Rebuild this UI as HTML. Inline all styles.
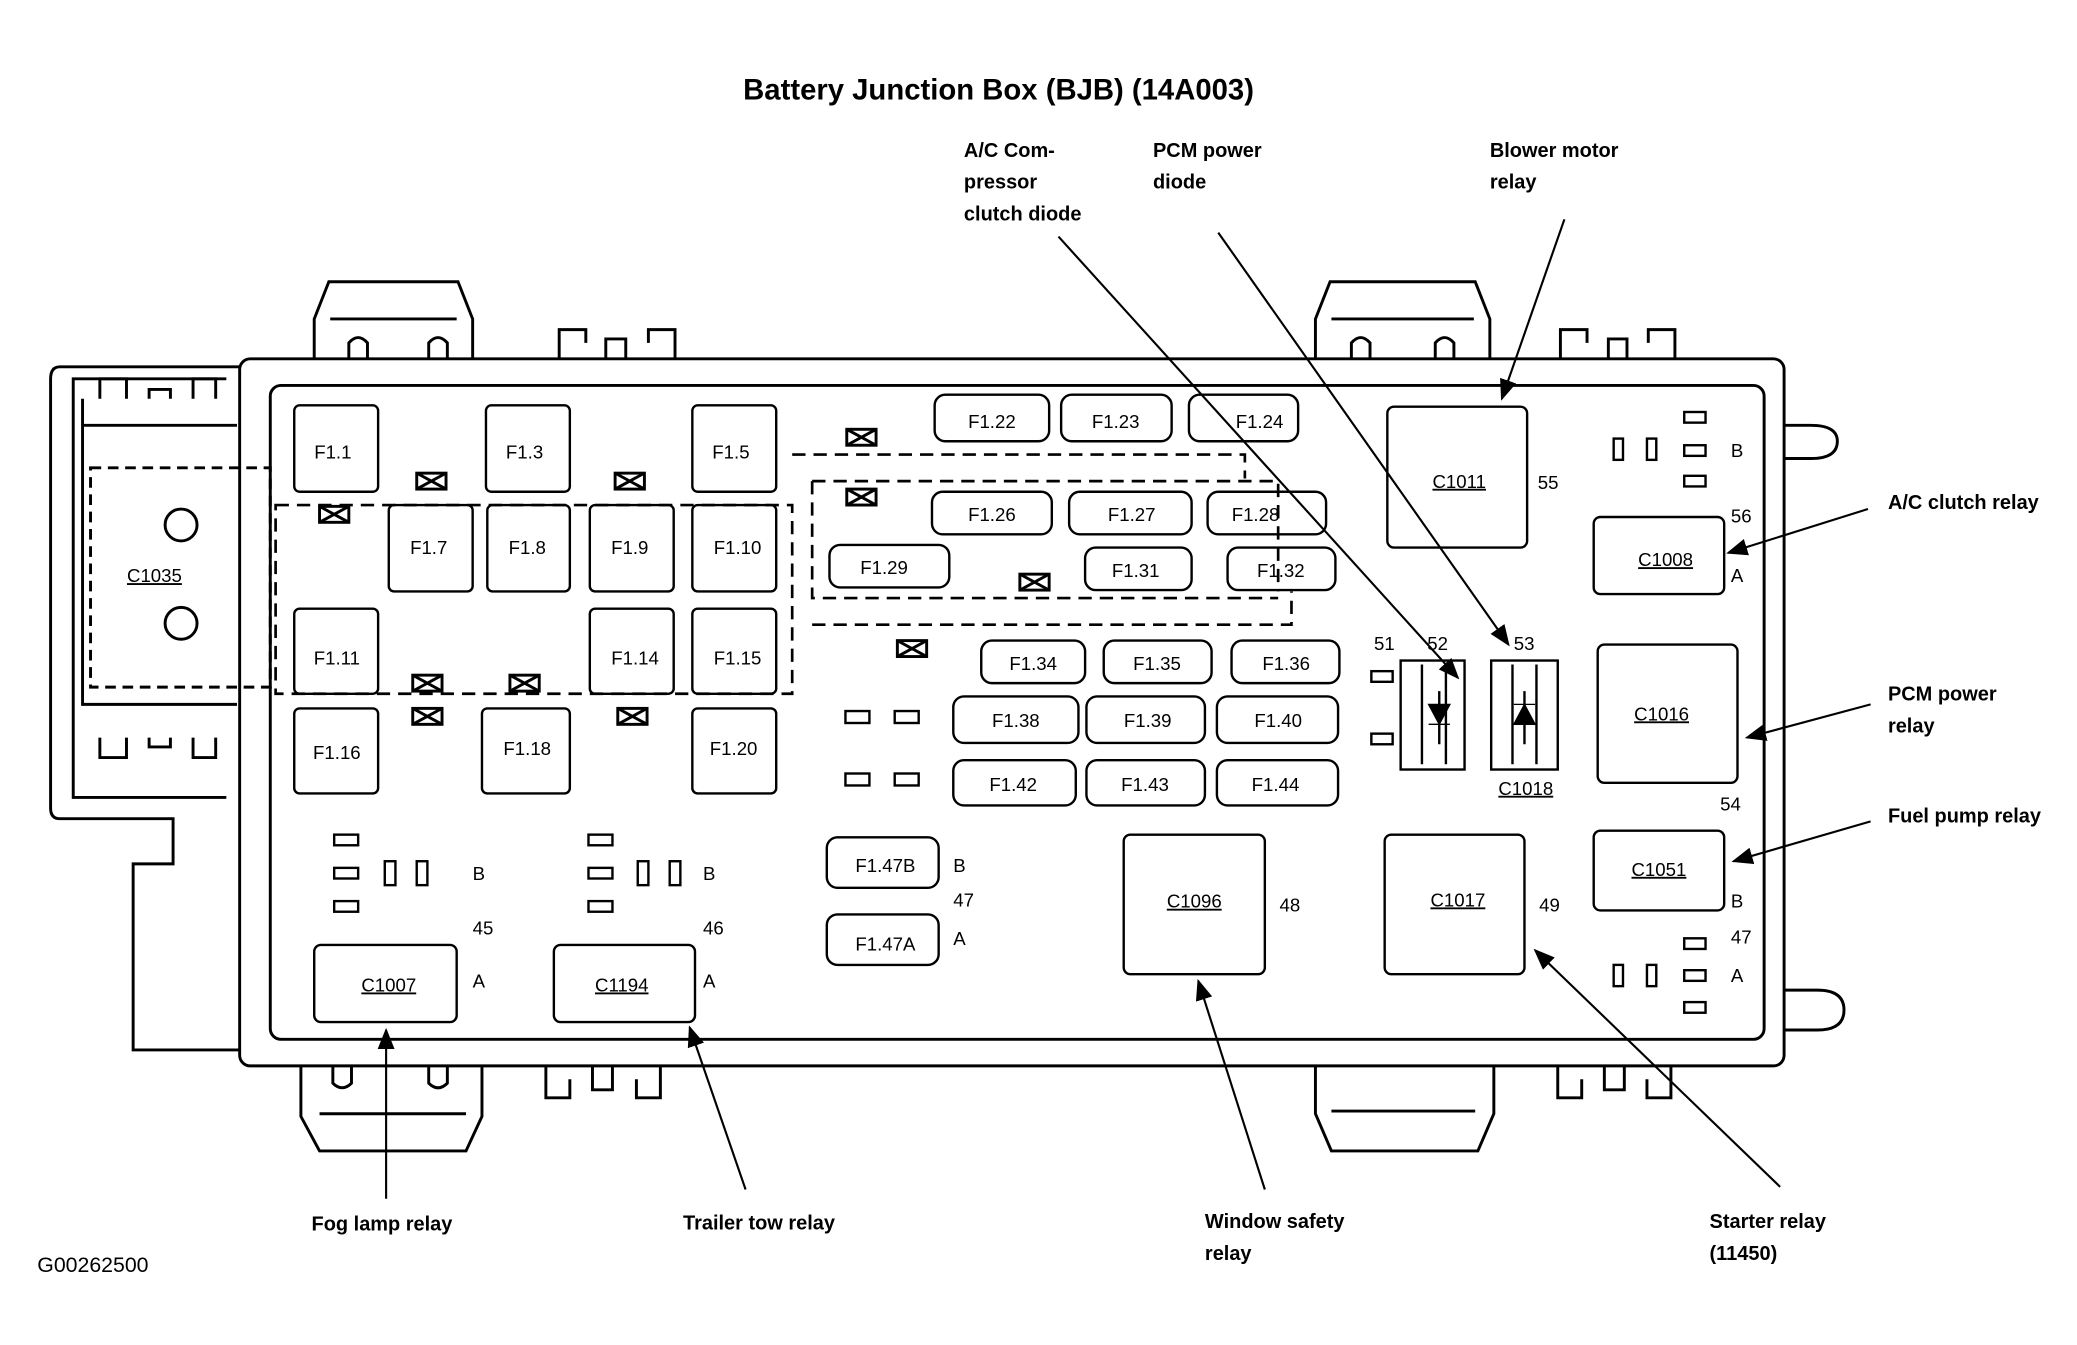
<!DOCTYPE html>
<html><head><meta charset="utf-8"><style>
html,body{margin:0;padding:0;background:#fff}
svg{display:block}
text{font-family:"Liberation Sans",Arial,sans-serif;fill:#000}
.b{font-weight:bold;font-size:15px}
.f{font-size:14px;text-anchor:middle}
.n{font-size:14px}
</style></head><body>
<svg width="2077" height="1345" viewBox="0 0 1560 1012" preserveAspectRatio="none" xmlns="http://www.w3.org/2000/svg">
<defs><marker id="a" markerWidth="10" markerHeight="8" refX="9" refY="4" orient="auto"><path d="M0,0 L10,4 L0,8 z" fill="#000"/></marker>
<g id="x" fill="none" stroke="#000" stroke-width="2.2"><rect x="0" y="0" width="22" height="12"/><path d="M0,0 L22,12 M0,12 L22,0"/></g></defs>
<text x="750" y="75" font-size="22" font-weight="bold" text-anchor="middle">Battery Junction Box (BJB) (14A003)</text>
<g fill="none" stroke="#000" stroke-width="2.2">
<rect x="180" y="270" width="1160" height="532" rx="8"/>
<rect x="203" y="290" width="1122" height="492" rx="8"/>
<path d="M180,276 H45 Q38,276 38,285 V608 Q38,616 45,616 H130 V650 H100 V790 H180"/>
<path d="M170,285 H55 V600 H170"/>
<path d="M62,300 V530 H178"/>
<path d="M62,320 H178"/>
<rect x="68" y="352" width="135" height="165" stroke-dasharray="8,5"/>
<circle cx="136" cy="395" r="12"/><circle cx="136" cy="469" r="12"/>
<path d="M75,300 V285 H95 V300 M112,300 V293 H128 V300 M145,300 V285 H162 V300"/>
<path d="M75,555 V570 H95 V555 M112,555 V562 H128 V555 M145,555 V570 H162 V555"/>
<path d="M236,270 V240 L247,212 H344 L355,240 V270 M248,240 H343 M262,270 V258 Q269,250 276,258 V270 M322,270 V258 Q329,250 336,258 V270"/>
<path d="M988,270 V240 L999,212 H1108 L1119,240 V270 M1000,240 H1107 M1015,270 V258 Q1022,250 1029,258 V270 M1078,270 V258 Q1085,250 1092,258 V270"/>
<path d="M420,270 V248 H440 V258 M455,270 V255 H470 V270 M487,258 V248 H507 V270"/>
<path d="M1172,270 V248 H1192 V258 M1208,270 V255 H1222 V270 M1238,258 V248 H1258 V270"/>
<path d="M226,802 V840 L240,866 H350 L362,840 V802 M240,838 H350 M250,802 V815 Q257,822 264,815 V802 M322,802 V815 Q329,822 336,815 V802"/>
<path d="M988,802 V838 L1000,866 H1110 L1122,838 V802 M1000,836 H1108"/>
<path d="M410,802 V826 H428 V812 M445,802 V820 H460 V802 M478,812 V826 H496 V802"/>
<path d="M1170,802 V826 H1188 V812 M1205,802 V820 H1220 V802 M1237,812 V826 H1255 V802"/>
<path d="M1340,320 H1360 Q1380,320 1380,332 Q1380,345 1360,345 H1340"/>
<path d="M1340,745 H1365 Q1385,745 1385,760 Q1385,775 1365,775 H1340"/>
<g stroke-dasharray="10,6" stroke-width="2">
<path d="M207,380 H595 V522 H207 Z"/>
<path d="M595,342 H935 V360 M610,362 H960 V445 M610,362 V450 H960 M610,470 H970 V445"/>
</g>
<g stroke-width="1.8">
<rect x="221" y="305" width="63" height="65" rx="4"/><rect x="365" y="305" width="63" height="65" rx="4"/><rect x="520" y="305" width="63" height="65" rx="4"/>
<rect x="292" y="380" width="63" height="65" rx="4"/><rect x="366" y="380" width="62" height="65" rx="4"/><rect x="443" y="380" width="63" height="65" rx="4"/><rect x="520" y="380" width="63" height="65" rx="4"/>
<rect x="221" y="458" width="63" height="64" rx="4"/><rect x="443" y="458" width="63" height="64" rx="4"/><rect x="520" y="458" width="63" height="64" rx="4"/>
<rect x="221" y="533" width="63" height="64" rx="4"/><rect x="362" y="533" width="66" height="64" rx="4"/><rect x="520" y="533" width="63" height="64" rx="4"/>
<rect x="702" y="297" width="86" height="35" rx="8"/><rect x="797" y="297" width="83" height="35" rx="8"/><rect x="893" y="297" width="82" height="35" rx="8"/>
<rect x="700" y="370" width="90" height="32" rx="8"/><rect x="803" y="370" width="92" height="32" rx="8"/><rect x="907" y="370" width="89" height="32" rx="8"/>
<rect x="623" y="410" width="90" height="32" rx="8"/><rect x="815" y="412" width="80" height="32" rx="8"/><rect x="922" y="412" width="81" height="32" rx="8"/>
<rect x="737" y="482" width="78" height="32" rx="8"/><rect x="829" y="482" width="81" height="32" rx="8"/><rect x="925" y="482" width="81" height="32" rx="8"/>
<rect x="716" y="524" width="94" height="35" rx="8"/><rect x="816" y="524" width="89" height="35" rx="8"/><rect x="914" y="524" width="91" height="35" rx="8"/>
<rect x="716" y="572" width="92" height="34" rx="8"/><rect x="816" y="572" width="89" height="34" rx="8"/><rect x="914" y="572" width="91" height="34" rx="8"/>
<rect x="621" y="630" width="84" height="38" rx="8"/><rect x="621" y="688" width="84" height="38" rx="8"/>
<rect x="1042" y="306" width="105" height="106" rx="5"/><rect x="1197" y="389" width="98" height="58" rx="5"/>
<rect x="1200" y="485" width="105" height="104" rx="5"/><rect x="1197" y="625" width="98" height="60" rx="5"/>
<rect x="844" y="628" width="106" height="105" rx="5"/><rect x="1040" y="628" width="105" height="105" rx="5"/>
<rect x="236" y="711" width="107" height="58" rx="5"/><rect x="416" y="711" width="106" height="58" rx="5"/>
<rect x="1052" y="497" width="48" height="82"/><rect x="1120" y="497" width="50" height="82"/>
<path d="M1068,500 V575 M1086,500 V575 M1136,500 V575 M1154,500 V575"/>
<path d="M1081,520 V560 M1145,520 V560"/>
<rect x="1030" y="505" width="16" height="8"/><rect x="1030" y="552" width="16" height="8"/>
<rect x="635" y="535" width="18" height="9"/><rect x="672" y="535" width="18" height="9"/>
<rect x="635" y="582" width="18" height="9"/><rect x="672" y="582" width="18" height="9"/>
<rect x="1265" y="310" width="16" height="8"/><rect x="1265" y="335" width="16" height="8"/><rect x="1265" y="358" width="16" height="8"/><rect x="1212" y="330" width="7" height="16"/><rect x="1237" y="330" width="7" height="16"/>
<rect x="1265" y="706" width="16" height="8"/><rect x="1265" y="730" width="16" height="8"/><rect x="1265" y="754" width="16" height="8"/><rect x="1212" y="726" width="7" height="16"/><rect x="1237" y="726" width="7" height="16"/>
<rect x="251" y="628" width="18" height="8"/><rect x="251" y="653" width="18" height="8"/><rect x="251" y="678" width="18" height="8"/><rect x="289" y="648" width="8" height="18"/><rect x="313" y="648" width="8" height="18"/>
<rect x="442" y="628" width="18" height="8"/><rect x="442" y="653" width="18" height="8"/><rect x="442" y="678" width="18" height="8"/><rect x="479" y="648" width="8" height="18"/><rect x="503" y="648" width="8" height="18"/>
</g>
</g>
<use href="#x" x="313" y="356"/><use href="#x" x="462" y="356"/><use href="#x" x="240" y="381"/>
<use href="#x" x="310" y="508"/><use href="#x" x="383" y="508"/><use href="#x" x="310" y="533"/><use href="#x" x="464" y="533"/>
<use href="#x" x="636" y="323"/><use href="#x" x="636" y="368"/><use href="#x" x="766" y="432"/><use href="#x" x="674" y="482"/>
<path d="M1073,530 H1089 L1081,545 Z M1073,545 H1089" stroke="#000" fill="#000"/>
<path d="M1137,545 H1153 L1145,530 Z M1137,530 H1153" stroke="#000" fill="#000"/>
<g stroke="#000" stroke-width="1.6" fill="none" marker-end="url(#a)">
<path d="M795,178 L1095,510"/><path d="M915,175 L1133,485"/><path d="M1175,165 L1128,300"/>
<path d="M1403,383 L1298,416"/><path d="M1405,530 L1312,555"/><path d="M1405,618 L1302,648"/>
<path d="M290,902 V775"/><path d="M560,895 L518,773"/><path d="M950,895 L900,738"/><path d="M1337,893 L1153,715"/>
</g>
<g class="f">
<text x="250" y="345">F1.1</text><text x="394" y="345">F1.3</text><text x="549" y="345">F1.5</text>
<text x="322" y="417">F1.7</text><text x="396" y="417">F1.8</text><text x="473" y="417">F1.9</text><text x="554" y="417">F1.10</text>
<text x="253" y="500">F1.11</text><text x="477" y="500">F1.14</text><text x="554" y="500">F1.15</text>
<text x="253" y="571">F1.16</text><text x="396" y="568">F1.18</text><text x="551" y="568">F1.20</text>
<text x="745" y="322">F1.22</text><text x="838" y="322">F1.23</text><text x="946" y="322">F1.24</text>
<text x="745" y="392">F1.26</text><text x="850" y="392">F1.27</text><text x="943" y="392">F1.28</text>
<text x="664" y="432">F1.29</text><text x="853" y="434">F1.31</text><text x="962" y="434">F1.32</text>
<text x="776" y="504">F1.34</text><text x="869" y="504">F1.35</text><text x="966" y="504">F1.36</text>
<text x="763" y="547">F1.38</text><text x="862" y="547">F1.39</text><text x="960" y="547">F1.40</text>
<text x="761" y="595">F1.42</text><text x="860" y="595">F1.43</text><text x="958" y="595">F1.44</text>
<text x="665" y="656">F1.47B</text><text x="665" y="715">F1.47A</text>
<text x="1096" y="367" text-decoration="underline">C1011</text><text x="1251" y="426" text-decoration="underline">C1008</text>
<text x="1248" y="542" text-decoration="underline">C1016</text><text x="1246" y="659" text-decoration="underline">C1051</text>
<text x="897" y="683" text-decoration="underline">C1096</text><text x="1095" y="682" text-decoration="underline">C1017</text>
<text x="292" y="746" text-decoration="underline">C1007</text><text x="467" y="746" text-decoration="underline">C1194</text>
<text x="116" y="438" text-decoration="underline">C1035</text><text x="1146" y="598" text-decoration="underline">C1018</text>
</g>
<g class="n">
<text x="1155" y="368">55</text><text x="1300" y="393">56</text><text x="1300" y="344">B</text><text x="1300" y="438">A</text>
<text x="1292" y="610">54</text><text x="1300" y="683">B</text><text x="1300" y="710">47</text><text x="1300" y="739">A</text>
<text x="961" y="686">48</text><text x="1156" y="686">49</text>
<text x="1032" y="489">51</text><text x="1072" y="489">52</text><text x="1137" y="489">53</text>
<text x="355" y="662">B</text><text x="355" y="703">45</text><text x="355" y="743">A</text>
<text x="528" y="662">B</text><text x="528" y="703">46</text><text x="528" y="743">A</text>
<text x="716" y="656">B</text><text x="716" y="682">47</text><text x="716" y="711">A</text>
<text x="28" y="957" font-size="16">G00262500</text>
</g>
<g class="b">
<text x="724" y="118">A/C Com-</text><text x="724" y="142">pressor</text><text x="724" y="166">clutch diode</text>
<text x="866" y="118">PCM power</text><text x="866" y="142">diode</text>
<text x="1119" y="118">Blower motor</text><text x="1119" y="142">relay</text>
<text x="1418" y="383">A/C clutch relay</text>
<text x="1418" y="527">PCM power</text><text x="1418" y="551">relay</text>
<text x="1418" y="619">Fuel pump relay</text>
<text x="234" y="926">Fog lamp relay</text><text x="513" y="925">Trailer tow relay</text>
<text x="905" y="924">Window safety</text><text x="905" y="948">relay</text>
<text x="1284" y="924">Starter relay</text><text x="1284" y="948">(11450)</text>
</g>
</svg>
</body></html>
